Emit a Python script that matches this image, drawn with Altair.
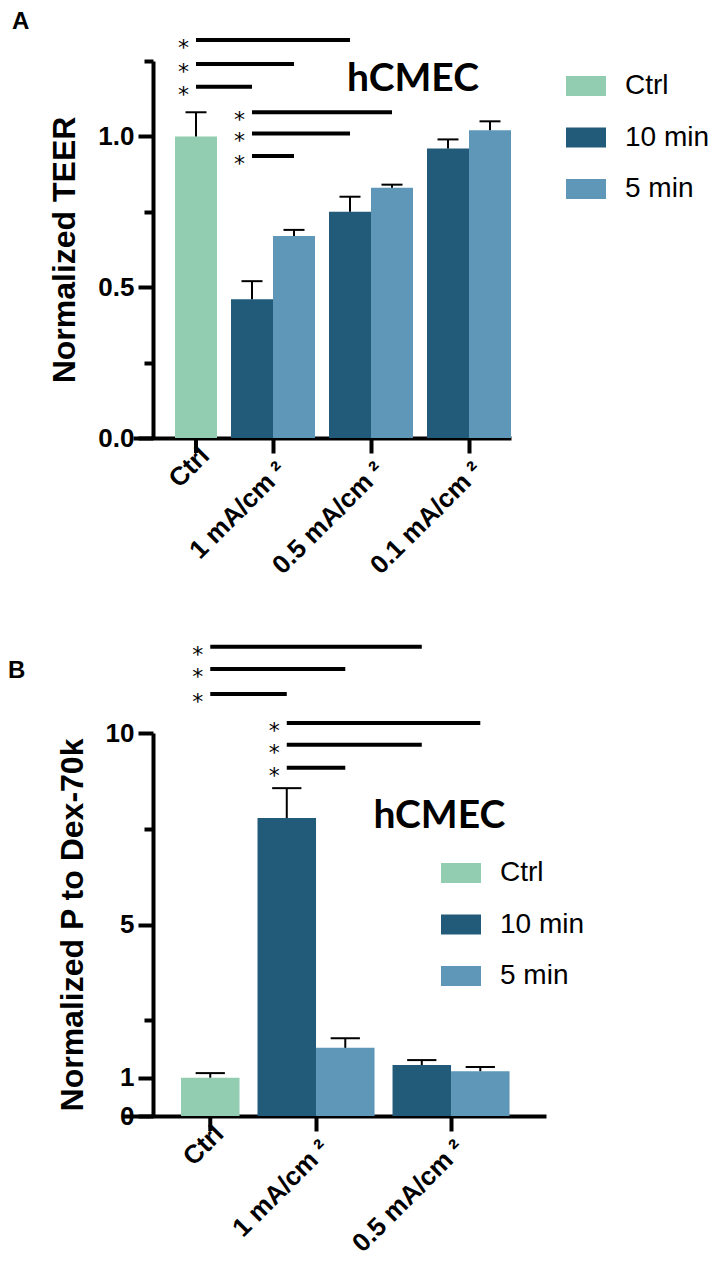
import altair as alt
import pandas as pd

# ---------------- data ----------------
SERIES = ["Ctrl", "10 min", "5 min"]
SERIES_COLORS = ["#92cdb2", "#225a79", "#5e97b8"]

# Panel A: Normalized TEER
a_groups = ["Ctrl", "1 mA/cm ²", "0.5 mA/cm ²", "0.1 mA/cm ²"]
a_bar_group = ["Ctrl", "1 mA/cm ²", "1 mA/cm ²", "0.5 mA/cm ²", "0.5 mA/cm ²", "0.1 mA/cm ²", "0.1 mA/cm ²"]
a_bar_series = ["Ctrl", "10 min", "5 min", "10 min", "5 min", "10 min", "5 min"]
a_mean = [1.00, 0.46, 0.67, 0.75, 0.83, 0.96, 1.02]
a_err_top = [1.08, 0.52, 0.69, 0.80, 0.84, 0.99, 1.05]
a_sig_from_group = ["Ctrl", "Ctrl", "Ctrl", "1 mA/cm ²", "1 mA/cm ²", "1 mA/cm ²"]
a_sig_from_series = ["Ctrl", "Ctrl", "Ctrl", "10 min", "10 min", "10 min"]
a_sig_to_group = ["0.5 mA/cm ²", "1 mA/cm ²", "1 mA/cm ²", "0.5 mA/cm ²", "0.5 mA/cm ²", "1 mA/cm ²"]
a_sig_to_series = ["10 min", "5 min", "10 min", "5 min", "10 min", "5 min"]
a_sig_level = [1.32, 1.24, 1.165, 1.08, 1.01, 0.935]
a_ticks = [0, 0.25, 0.5, 0.75, 1.0, 1.25]
a_tick_labels = [0, 0.5, 1]

# Panel B: Normalized P to Dex-70k
b_groups = ["Ctrl", "1 mA/cm ²", "0.5 mA/cm ²"]
b_bar_group = ["Ctrl", "1 mA/cm ²", "1 mA/cm ²", "0.5 mA/cm ²", "0.5 mA/cm ²"]
b_bar_series = ["Ctrl", "10 min", "5 min", "10 min", "5 min"]
b_mean = [1.00, 7.78, 1.78, 1.33, 1.17]
b_err_top = [1.12, 8.56, 2.03, 1.46, 1.28]
b_sig_from_group = ["Ctrl", "Ctrl", "Ctrl", "1 mA/cm ²", "1 mA/cm ²", "1 mA/cm ²"]
b_sig_from_series = ["Ctrl", "Ctrl", "Ctrl", "10 min", "10 min", "10 min"]
b_sig_to_group = ["0.5 mA/cm ²", "1 mA/cm ²", "1 mA/cm ²", "0.5 mA/cm ²", "0.5 mA/cm ²", "1 mA/cm ²"]
b_sig_to_series = ["10 min", "5 min", "10 min", "5 min", "10 min", "5 min"]
b_sig_level = [12.25, 11.67, 11.02, 10.26, 9.69, 9.09]
b_ticks = [0, 1, 2.5, 5, 7.5, 10]
b_tick_labels = [0, 1, 5, 10]

# ---------------- style ----------------
FONT = "Liberation Sans"
# position of each series' bar centre inside its group band (Ctrl sits in the right slot)
BAND_POS = {"Ctrl": 0.75, "10 min": 0.25, "5 min": 0.75}
CAP_HALF = 0.125  # half of the error-bar cap width, as a fraction of the group band
TICK_LEN = 15


def build_panel(letter, groups, bar_group, bar_series, mean, err_top,
                sig_fg, sig_fs, sig_tg, sig_ts, sig_lv,
                ydomain, ticks, tick_labels, fmt, ytitle,
                width, height, xrange, pad_inner, pad_outer, band_px,
                hc_group, hc_pos, hc_y, leg_x, leg_y, title_dx, title_offset):
    bars = pd.DataFrame({"group": bar_group, "series": bar_series,
                         "mean": mean, "top": err_top})
    sig = pd.DataFrame({"fg": sig_fg, "fs": sig_fs, "tg": sig_tg,
                        "ts": sig_ts, "lv": sig_lv})
    ann = pd.DataFrame({"group": [hc_group], "y": [hc_y], "label": ["hCMEC"]})
    ctrl_tick = pd.DataFrame({"group": ["Ctrl"], "y0": [0.0],
                              "y1": [-TICK_LEN * ydomain[1] / height]})

    major = " || ".join(f"datum.value == {v}" for v in tick_labels)
    yscale = alt.Scale(domain=ydomain, nice=False, zero=True)
    yaxis = alt.Axis(values=ticks,
                     labelExpr=f"({major}) ? format(datum.value, '{fmt}') : ''",
                     tickSize={"condition": {"test": major, "value": TICK_LEN}, "value": 9},
                     title=ytitle, titlePadding=16, grid=False, labelPadding=4)
    xscale = alt.Scale(domain=groups, range=xrange, paddingInner=pad_inner,
                       paddingOuter=pad_outer, align=0)
    is_ctrl = "datum.value == 'Ctrl'"
    xaxis = alt.Axis(title=None, labelAngle=315, labelAlign="right",
                     labelBaseline="top", labelPadding=4, grid=False,
                     tickSize={"condition": {"test": is_ctrl, "value": 0}, "value": TICK_LEN},
                     labelOffset={"condition": {"test": is_ctrl, "value": band_px * 0.25},
                                  "value": 0})

    def X(field, bp=None):
        if bp is None:
            return alt.X(f"{field}:N", scale=xscale, axis=xaxis, sort=groups)
        return alt.X(f"{field}:N", scale=xscale, axis=xaxis, sort=groups, bandPosition=bp)

    def Y(field):
        return alt.Y(f"{field}:Q", scale=yscale, axis=yaxis)

    color = alt.Color(
        "series:N",
        scale=alt.Scale(domain=SERIES, range=SERIES_COLORS),
        legend=alt.Legend(orient="none", legendX=leg_x, legendY=leg_y, title=None,
                          symbolType="M-1,-0.5H1V0.5H-1Z", symbolSize=1600,
                          symbolStrokeWidth=0, symbolOpacity=1,
                          labelFont=FONT, labelFontSize=28, labelColor="black",
                          labelFontWeight="normal", labelOffset=19, rowPadding=17.5),
    )

    base = alt.Chart(bars)
    layers = []
    layers.append(
        base.transform_calculate(slot="datum.series == '10 min' ? 'left' : 'right'")
        .mark_bar()
        .encode(x=X("group"),
                xOffset=alt.XOffset("slot:N", scale=alt.Scale(domain=["left", "right"],
                                                              paddingInner=0, paddingOuter=0),
                                    sort=["left", "right"]),
                y=Y("mean"), color=color)
    )
    for s in SERIES:
        src = base.transform_filter(f"datum.series == '{s}'")
        bp = BAND_POS[s]
        layers.append(src.mark_rule(color="black", strokeWidth=2)
                      .encode(x=X("group", bp), y=Y("mean"), y2="top:Q"))
        layers.append(src.mark_rule(color="black", strokeWidth=2)
                      .encode(x=X("group", bp - CAP_HALF),
                              x2=alt.X2("group:N", bandPosition=bp + CAP_HALF),
                              y=Y("top")))

    # x-axis tick under the Ctrl bar (it sits off the band centre)
    layers.append(alt.Chart(ctrl_tick).mark_rule(color="black", strokeWidth=4)
                  .encode(x=X("group", BAND_POS["Ctrl"]), y=Y("y0"), y2="y1:Q"))

    combos = []
    for fs, ts in zip(sig_fs, sig_ts):
        if (fs, ts) not in combos:
            combos.append((fs, ts))
    for fs, ts in combos:
        src = alt.Chart(sig).transform_filter(f"datum.fs == '{fs}' && datum.ts == '{ts}'")
        layers.append(src.mark_rule(color="black", strokeWidth=4)
                      .encode(x=X("fg", BAND_POS[fs]),
                              x2=alt.X2("tg:N", bandPosition=BAND_POS[ts]),
                              y=Y("lv")))
        layers.append(src.mark_text(text="*", font="DejaVu Sans", fontSize=22, color="black",
                                    align="right", baseline="alphabetic", dx=-7, dy=15)
                      .encode(x=X("fg", BAND_POS[fs]), y=Y("lv")))

    layers.append(alt.Chart(ann).mark_text(font="Lato", fontWeight="bold", fontSize=39,
                                           color="black", align="center", baseline="middle")
                  .encode(x=X("group", hc_pos), y=Y("y"), text="label:N"))

    return alt.layer(*layers).properties(
        width=width, height=height,
        title=alt.TitleParams(letter, anchor="start", frame="group", dx=title_dx,
                              offset=title_offset, font=FONT, fontSize=24,
                              fontWeight="bold", color="black"),
    )


panel_a = build_panel(
    "A", a_groups, a_bar_group, a_bar_series, a_mean, a_err_top,
    a_sig_from_group, a_sig_from_series, a_sig_to_group, a_sig_to_series, a_sig_level,
    [0, 1.25], a_ticks, a_tick_labels, ".1f", "Normalized TEER",
    360, 377, [-20, 358], 14 / 98, 0, 84,
    "0.5 mA/cm ²", 1.0, 1.19, 413, 5, -141, 3,
)

panel_b = build_panel(
    "B", b_groups, b_bar_group, b_bar_series, b_mean, b_err_top,
    b_sig_from_group, b_sig_from_series, b_sig_to_group, b_sig_to_series, b_sig_level,
    [0, 10], b_ticks, b_tick_labels, "d", "Normalized P to Dex-70k",
    393, 383, [-30.5, 393], 18 / 135, 0.135, 117,
    "0.5 mA/cm ²", 0.40, 7.83, 288, 120, -145, -39,
)

chart = (
    alt.vconcat(panel_a, panel_b, spacing=64)
    .resolve_scale(color="independent", x="independent", y="independent",
                   xOffset="independent")
    .properties(padding={"left": 0, "top": 1, "right": 0, "bottom": 5})
    .configure_view(stroke=None)
    .configure_axis(domainColor="black", domainWidth=4, tickColor="black", tickWidth=4,
                    labelColor="black", labelFont=FONT, labelFontSize=26,
                    labelFontWeight="bold", titleColor="black", titleFont=FONT,
                    titleFontSize=32, titleFontWeight="bold")
)

chart.save("out.html", embed_options={"renderer": "svg", "actions": False})
